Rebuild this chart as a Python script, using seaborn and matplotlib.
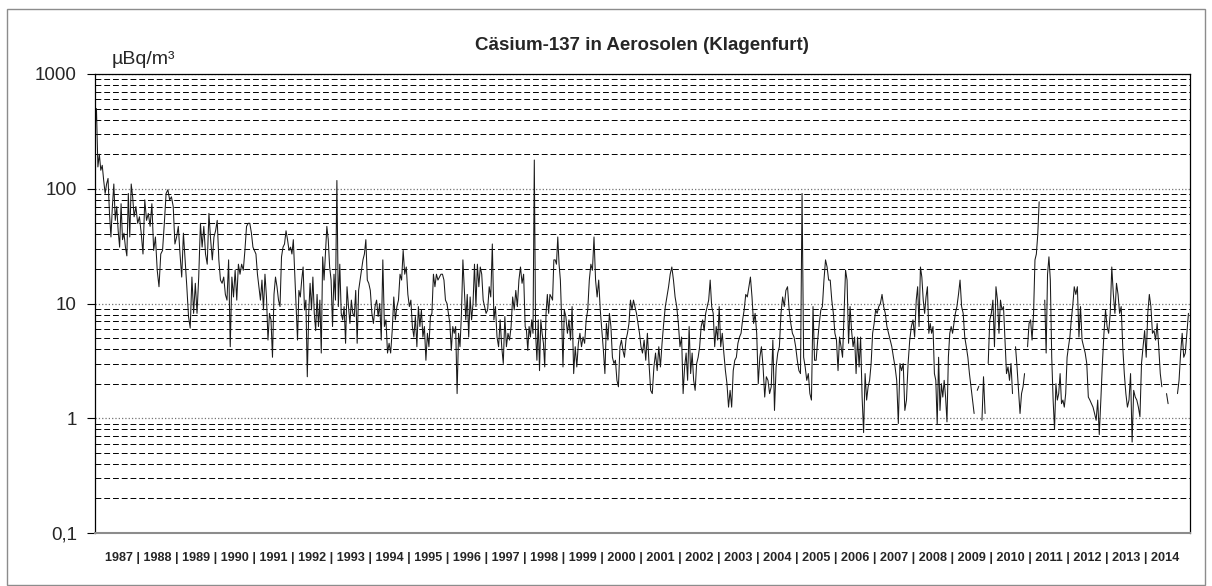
import numpy as np
import pandas as pd
import matplotlib
matplotlib.use("Agg")
import matplotlib.pyplot as plt
import seaborn as sns
from matplotlib.ticker import LogLocator, FixedLocator, FuncFormatter, NullFormatter
from matplotlib.patches import Rectangle

nan = np.nan

# Cs-137 in aerosols, Klagenfurt, µBq/m³, ~2 values per month
cs_1987 = [330, 500, 155, 200, 145, 160, 118, 91, 110, 123, 61, 38, 70, 110, 53, 70, 43, 31, 74, 36, 41, 31, 26, 91, 38, 110, 85]
cs_1988 = [57, 70, 50, 57, 41, 27, 80, 53, 61, 47, 74, 29, 38, 19.5, 14, 27, 29, 50, 91, 98, 80, 85]
cs_1989 = [70, 33, 38, 47, 27, 17, 41, 24, 14, 7.7, 6.1, 17, 8.2, 15, 8.2, 17, 50, 31, 47, 27, 22, 61, 36]
cs_1990 = [24, 38, 43, 53, 24, 16, 15, 17, 12, 10.7, 24, 4.2, 17, 11.4, 19.5, 10.7, 22, 18, 22, 19.5, 29, 47, 50, 50]
cs_1991 = [41, 31, 29, 27, 18, 14, 10.7, 16, 8.8, 18, 11.4, 4.8, 8.2, 7.2, 3.4, 12, 17, 14, 10.7, 9.4, 25.5, 31, 33, 43, 36, 29]
cs_1992 = [31, 27, 36, 18, 9.4, 4.8, 13, 11.4, 16, 20.8, 8.8, 10.7, 2.3, 8.2, 15, 8.8, 17, 8.2, 5.8, 12, 6.3, 10.7, 3.7, 25.5, 16, 27, 47, 36]
cs_1993 = [20.8, 16, 6.3, 18, 10.7, 118, 9.4, 22, 8.2, 7.2, 9.4, 4.5, 14, 9.4, 6.7, 10.7, 8.2, 7.7, 13, 4.5, 13, 16, 19.5, 24, 27, 36, 16]
cs_1994 = [15, 13, 8.2, 6.7, 9.4, 10.7, 7.7, 10, 4.8, 24, 6.3, 7.2, 3.7, 4.5, 3.7, 5.8, 11.4, 7.2, 9.4, 10.7, 18, 16, 29, 18, 20.8]
cs_1995 = [12, 9.4, 10.7, 6.3, 5.1, 7.7, 4.2, 9.4, 6.3, 8.8, 5.1, 6.3, 3.2, 5.5, 4.2, 7.7, 8.2, 18, 14, 18, 16, 17, 18, 18, 16, 10.7]
cs_1996 = [10, 8.2, 6.7, 3.9, 6.3, 5.5, 6.3, 1.64, 5.5, 4.2, 8.2, 24, 13, 7.2, 12, 5.1, 11.4, 7.2, 10, 22, 9.4, 22, 14, 20.8, 18, 10.7, 9.4]
cs_1997 = [8.2, 8.8, 14, 11.4, 33, 7.2, 9.4, 5.1, 4.2, 7.2, 4.2, 3.0, 7.7, 4.2, 5.5, 4.8, 6.3, 11.4, 8.8, 13, 9.4, 16, 20.8, 15, 18]
cs_1998 = [6.3, 5.8, 3.9, 6.3, 5.1, 7.2, 5.5, 178, 5.5, 3.2, 7.2, 2.6, 7.2, 5.5, 4.5, 2.8, 8.2, 12, 8.2, 12, 11.4, 10.7, 24, 24, 22, 38, 22, 16, 7.2, 2.8]
cs_1999 = [8.8, 7.7, 5.5, 7.2, 4.8, 9.4, 2.45, 4.2, 2.8, 4.5, 5.5, 4.2, 5.1, 4.5, 7.2, 8.8, 16, 22, 19.5, 38, 16, 11.4, 16, 8.8, 5.8]
cs_2000 = [3.9, 2.45, 6.7, 4.8, 8.2, 6.3, 3.4, 3.0, 3.2, 2.14, 1.88, 4.2, 4.8, 3.9, 3.4, 4.8, 5.5, 6.7, 10.7, 8.8, 10.7, 9.4, 8.2, 6.7, 5.5, 4.2]
cs_2001 = [3.7, 4.8, 3.2, 5.5, 3.0, 1.75, 1.64, 2.8, 3.7, 2.6, 4.2, 2.8, 4.5, 6.7, 9.4, 11.4, 14, 18, 20.8, 16, 11.4, 9.4, 6.7, 4.2]
cs_2002 = [5.1, 1.64, 2.8, 3.7, 2.14, 6.3, 2.45, 3.7, 2.14, 1.75, 3.0, 3.4, 4.2, 6.3, 7.2, 5.8, 8.2, 9.4, 10.7, 16, 9.4, 8.2, 4.2, 6.3, 4.8, 9.4]
cs_2003 = [4.2, 5.5, 3.7, 2.6, 2.0, 1.25, 1.75, 1.25, 2.6, 3.2, 3.4, 4.5, 5.1, 5.5, 7.2, 8.8, 12, 11.4, 14, 17, 11.4, 6.7, 8.2, 5.5, 2.0]
cs_2004 = [3.4, 4.2, 2.8, 1.53, 2.3, 2.14, 1.64, 1.88, 4.8, 1.17, 2.8, 3.7, 4.2, 8.2, 11.4, 9.4, 13, 14, 8.8, 6.7, 5.5, 5.1, 4.2, 3.2]
cs_2005 = [2.6, 2.45, 91, 3.4, 2.8, 2.14, 2.45, 1.64, 1.44, 9.4, 3.2, 3.2, 4.8, 6.7, 8.8, 9.4, 16, 24, 20.8, 16, 16, 10.7, 8.2, 5.5, 4.8]
cs_2006 = [2.6, 5.1, 4.2, 3.4, 8.2, 19.5, 16, 4.5, 9.4, 5.8, 4.2, 5.1, 2.45, 5.1, 2.8, 5.1, 1.53, 0.75, 2.45, 1.44, 1.88, 2.14, 3.0, 5.5, 6.7, 8.8]
cs_2007 = [8.2, 9.4, 10, 12, 9.4, 8.2, 6.3, 5.5, 4.8, 4.2, 3.4, 2.8, 2.14, 0.9, 3.0, 2.6, 3.0, 1.17, 1.44, 3.0, 4.8, 6.3, 7.2, 5.1]
cs_2008 = [10.7, 14, 6.3, 20.8, 17, 10.7, 8.2, 11.4, 14, 5.5, 6.7, 5.5, 6.3, 2.45, 2.14, 0.88, 3.4, 1.17, 2.0, 1.53, 2.14, 1.53, 0.93, 3.4, 5.5, 6.3, 5.5, 6.7]
cs_2009 = [8.2, 9.4, 12, 16, 9.4, 8.2, 5.1, 4.2, 3.4, 2.45, 1.88, 1.44, 1.1, nan, 1.75, 1.9, nan, 0.96, 2.3, 1.1, nan, 3.0, 7.2, 8.2, 10.7]
cs_2010 = [4.2, 14, 10.7, 5.5, 10.7, 8.8, 9.4, 4.8, 2.45, 2.8, 2.14, 3.0, 1.64, nan, 4.2, 2.8, 1.75, 1.1, 1.64, 1.88, 2.45, nan, 4.2, 6.7, 7.2, 4.8]
cs_2011 = [8.2, 24, 27, 40, 77, nan, nan, nan, 10.7, 3.7, 18, 25.5, 16, 3.4, 1.44, 0.8, 2.0, 1.44, 1.64, 2.45, 1.34, 1.44, 1.25, 1.64, 3.4, 4.2, 5.1, 7.2]
cs_2012 = [9.4, 14, 12, 14, 5.1, 9.4, 4.8, 4.2, 3.7, 3.0, 1.53, 1.44, 1.34, 1.25, 1.1, 0.96, 1.44, 0.72, 1.44, 3.0, 5.5, 8.8, 6.3, 5.5, 8.2]
cs_2013 = [20.8, 12, 8.2, 15, 12, 8.2, 9.4, 4.2, 2.45, 1.64, 1.25, 1.44, 2.45, 0.62, 1.75, 1.53, 1.44, 1.25, 1.03, 3.0, 4.2, 5.8, 3.4, 8.2, 12]
cs_2014 = [9.4, 5.5, 5.8, 4.8, 6.7, 4.2, 2.45, 1.88, nan, nan, 1.64, 1.34, nan, nan, nan, nan, nan, 1.64, 2.14, 3.7, 5.5, 3.4, 3.7, 5.5, 8.2]

years = list(range(1987, 2015))
yearly = [cs_1987, cs_1988, cs_1989, cs_1990, cs_1991, cs_1992, cs_1993,
          cs_1994, cs_1995, cs_1996, cs_1997, cs_1998, cs_1999, cs_2000,
          cs_2001, cs_2002, cs_2003, cs_2004, cs_2005, cs_2006, cs_2007,
          cs_2008, cs_2009, cs_2010, cs_2011, cs_2012, cs_2013, cs_2014]

y_ticks = [0.1, 1, 10, 100, 1000]

# spread each year's samples evenly over that year
rows = []
for yr, vals in zip(years, yearly):
    n = len(vals)
    for i, v in enumerate(vals):
        rows.append((yr + i / n, v))
df = pd.DataFrame(rows, columns=["t", "cs137"])
df["seg"] = df["cs137"].isna().cumsum()   # break the line at missing values
df = df.dropna()

sns.set_theme(style="white")
plt.rcParams["font.family"] = ["Liberation Sans", "DejaVu Sans"]

W, H = 1212, 586
fig = plt.figure(figsize=(W / 100, H / 100), dpi=100)
ax = fig.add_axes([95 / W, 53 / H, 1095 / W, 459 / H])

sns.lineplot(data=df, x="t", y="cs137", units="seg", estimator=None,
             color="#1a1a1a", lw=0.75, legend=False, ax=ax)

ax.set_yscale("log")
ax.set_ylim(0.1, 1000)
ax.set_xlim(1987, 2015)
ax.set_xticks([])

ax.yaxis.set_major_locator(FixedLocator(y_ticks))
ax.yaxis.set_major_formatter(FuncFormatter(lambda v, p: f"{v:g}".replace(".", ",")))
ax.yaxis.set_minor_locator(LogLocator(base=10, subs=np.arange(2, 10), numticks=50))
ax.yaxis.set_minor_formatter(NullFormatter())
ax.tick_params(axis="y", which="major", length=6, width=0.8, color="black",
               direction="out", pad=7, labelsize=13.5, left=True)
ax.tick_params(axis="y", which="minor", length=0)

ax.grid(which="minor", axis="y", color="black", ls=(0, (6, 3)), lw=0.7)
ax.grid(which="major", axis="y", color="0.45", ls=":", lw=0.9)
ax.grid(False, axis="x")
ax.set_axisbelow(True)

for s in ["left", "top", "right"]:
    ax.spines[s].set_color("black")
    ax.spines[s].set_linewidth(0.9)
ax.spines["bottom"].set_color("0.55")
ax.spines["bottom"].set_linewidth(1.5)

ax.set_ylabel("")
ax.set_xlabel(" | ".join(str(y) for y in years), fontsize=9.1,
              fontweight="bold", labelpad=14)

fig.text(642 / W, 1 - 45 / H, "Cäsium-137 in Aerosolen (Klagenfurt)",
         ha="center", va="center", fontsize=13.5, fontweight="bold")
fig.text(112 / W, 1 - 60 / H, "µBq/m³", ha="left", va="center", fontsize=14)

fig.add_artist(Rectangle((7 / W, 1 / H), 1198 / W, 576 / H,
                         transform=fig.transFigure, fill=False,
                         ec="0.55", lw=1.0))

fig.savefig("out.png", dpi=100)
